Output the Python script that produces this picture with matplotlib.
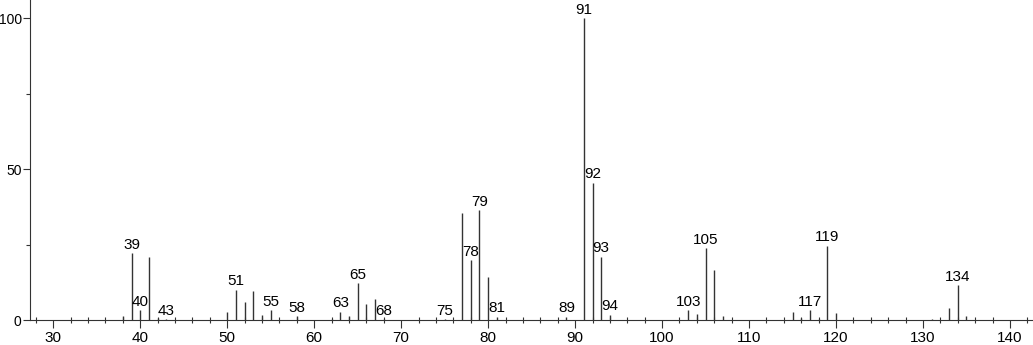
import matplotlib.pyplot as plt
from matplotlib.ticker import MultipleLocator

# m/z values and relative intensities
mz = [38, 39, 40, 41, 42, 43, 50, 51, 52, 53, 54, 55, 58, 62, 63, 64, 65,
      66, 67, 68, 75, 77, 78, 79, 80, 81, 89, 91, 92, 93, 94, 103, 104,
      105, 106, 107, 115, 116, 117, 118, 119, 120, 131, 133, 134, 135]
intensity = [1.2, 22.1, 3.3, 21.0, 0.7, 0.3, 2.8, 10.0, 6.0, 9.7, 1.5, 3.2,
             1.3, 0.3, 2.8, 1.2, 12.3, 5.4, 6.8, 0.3, 0.3, 35.6, 19.9, 36.5,
             14.1, 1.1, 1.1, 100.0, 45.5, 21.0, 1.8, 3.2, 2.1, 23.8, 16.6,
             1.4, 2.5, 0.5, 3.2, 0.3, 24.6, 2.2, 0.3, 4.1, 11.6, 1.2]

# peaks that carry a label
labelled = [39, 40, 43, 51, 55, 58, 63, 65, 68, 75, 78, 79, 81, 89, 91, 92,
            93, 94, 103, 105, 117, 119, 134]

plt.rcParams['font.family'] = ['Liberation Sans', 'DejaVu Sans']
fs = 11

fig = plt.figure(figsize=(10.33, 3.45), dpi=100)
ax = fig.add_axes([30 / 1033, 25 / 345, 1003 / 1033, 320 / 345])

ax.vlines(mz, 0, intensity, color='#333333', linewidth=1.0)

for m, h in zip(mz, intensity):
    if m in labelled:
        ax.annotate(str(m), (m, h), xytext=(0, 1), textcoords='offset points',
                    ha='center', va='bottom', fontsize=fs)

ax.set_xlim(27.32, 142.65)
ax.set_ylim(0, 106.1)

ax.xaxis.set_major_locator(MultipleLocator(10))
ax.xaxis.set_minor_locator(MultipleLocator(2))
ax.yaxis.set_major_locator(MultipleLocator(50))
ax.yaxis.set_minor_locator(MultipleLocator(25))

ax.tick_params(axis='x', which='major', direction='out', length=6, width=0.8,
               labelsize=fs, pad=2, color='#333333')
ax.tick_params(axis='x', which='minor', direction='inout', length=4, width=0.8,
               color='#333333')
ax.tick_params(axis='y', which='major', direction='out', length=5, width=0.8,
               labelsize=10, pad=1, color='#333333')
ax.tick_params(axis='y', which='minor', direction='out', length=3, width=0.8,
               color='#333333')

for side in ['top', 'right']:
    ax.spines[side].set_visible(False)
for side in ['left', 'bottom']:
    ax.spines[side].set_color('#333333')
    ax.spines[side].set_linewidth(0.8)

fig.savefig('out.png', dpi=100)
